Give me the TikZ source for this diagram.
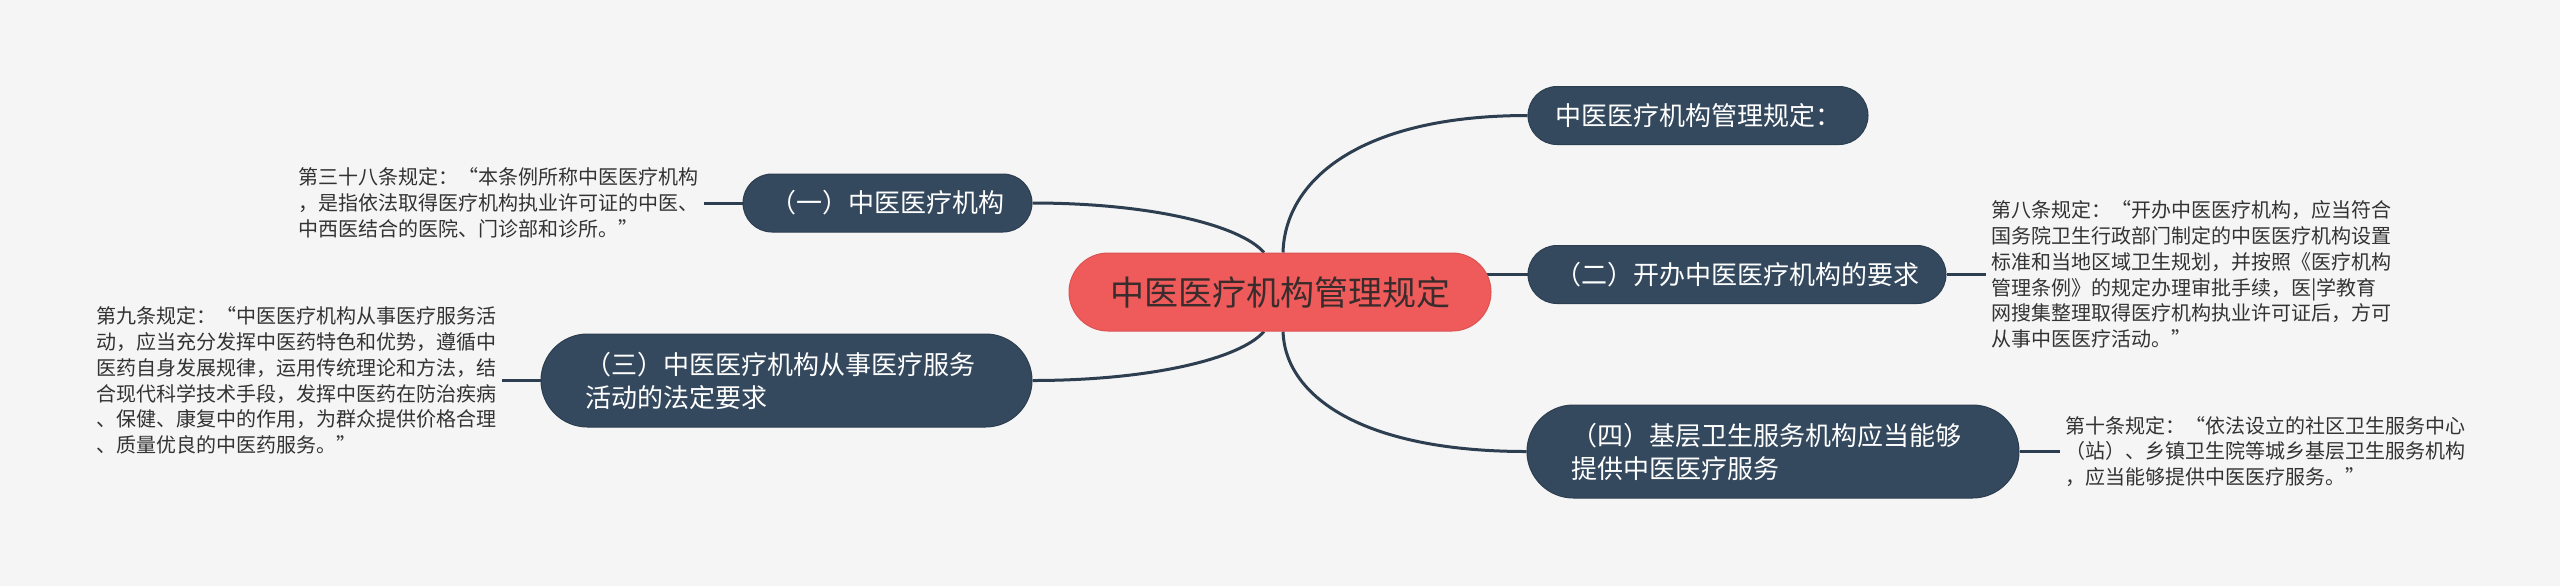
\documentclass[tikz,border=0pt]{standalone}
\usepackage{fontspec}
\setmainfont{Noto Sans CJK SC}
\usetikzlibrary{calc}
\definecolor{bgc}{HTML}{F5F5F5}
\definecolor{navy}{HTML}{34495E}
\definecolor{navyline}{HTML}{2C3E50}
\definecolor{redc}{HTML}{EF5A5A}
\definecolor{txt}{HTML}{333333}
\definecolor{ctxt}{HTML}{3A2C2C}
\pgfdeclarelayer{back}
\pgfsetlayers{back,main}
\begin{document}
\begin{tikzpicture}[x=0.5pt,y=-0.5pt,
  central/.style={fill=redc, draw=redc!92!black, line width=0.5pt, rounded corners=19.5pt,
    minimum width=211pt, minimum height=39pt, inner sep=0pt, text=ctxt,
    font=\fontsize{17pt}{20pt}\selectfont},
  topic/.style={fill=navy, draw=navyline, line width=0.5pt, text=white, inner ysep=0pt,
    inner xsep=13.5pt, minimum height=29pt, rounded corners=14.5pt,
    font=\fontsize{13pt}{16.5pt}\selectfont},
  topictwo/.style={topic, minimum height=46.5pt, rounded corners=23.25pt, inner xsep=22pt, align=left},
  detail/.style={text=txt, inner xsep=2.5pt, inner ysep=0pt, text width=200pt, align=left,
    font=\fontsize{10pt}{12.9pt}\selectfont},
  conn/.style={draw=navyline, line width=1.5pt}
]
\useasboundingbox (0,0) rectangle (2560,586);

\node[central] (C) at (1280,292) {\color{ctxt}中医医疗机构管理规定};

\node[topic, minimum width=170pt] (N0) at (1698,115.5) {中医医疗机构管理规定：};
\node[topic, minimum width=209pt] (N2) at (1737,274.5) {（二）开办中医医疗机构的要求};
\node[topictwo, text width=202pt] (N4) at (1773,451.5) {（四）基层卫生服务机构应当能够\\提供中医医疗服务};
\node[topic, minimum width=144.5pt] (N1) at (887.5,203) {（一）中医医疗机构};
\node[topictwo, text width=201.5pt] (N3) at (786.5,380.5) {（三）中医医疗机构从事医疗服务\\活动的法定要求};

\node[detail, anchor=west] (T1) at (293,203) {第三十八条规定：“本条例所称中医医疗机构\\，是指依法取得医疗机构执业许可证的中医、\\中西医结合的医院、门诊部和诊所。”};
\node[detail, anchor=west] (T3) at (91,380.5) {第九条规定：“中医医疗机构从事医疗服务活\\动，应当充分发挥中医药特色和优势，遵循中\\医药自身发展规律，运用传统理论和方法，结\\合现代科学技术手段，发挥中医药在防治疾病\\、保健、康复中的作用，为群众提供价格合理\\、质量优良的中医药服务。”};
\node[detail, anchor=west] (T2) at (1986,274.5) {第八条规定：“开办中医医疗机构，应当符合\\国务院卫生行政部门制定的中医医疗机构设置\\标准和当地区域卫生规划，并按照《医疗机构\\管理条例》的规定办理审批手续，医|学教育\\网搜集整理取得医疗机构执业许可证后，方可\\从事中医医疗活动。”};
\node[detail, anchor=west] (T4) at (2060,451.5) {第十条规定：“依法设立的社区卫生服务中心\\（站）、乡镇卫生院等城乡基层卫生服务机构\\，应当能够提供中医医疗服务。”};

\begin{pgfonlayer}{back}
\fill[bgc] (0,0) rectangle (2560,586);
\draw[conn] ($(C.north)+(-16,0)$) .. controls (1240,225) and (1150,203) .. (N1.east);
\draw[conn] ($(C.north)+(3,0)$) .. controls (1285,180) and (1360,115.5) .. (N0.west);
\draw[conn] (C.center |- N2.west) -- (N2.west);
\draw[conn] ($(C.south)+(-16,0)$) .. controls (1240,359) and (1150,380.5) .. (N3.east);
\draw[conn] ($(C.south)+(3,0)$) .. controls (1285,395) and (1360,451.5) .. (N4.west);
\draw[conn] (N1.west) -- (T1.east);
\draw[conn] (N3.west) -- (T3.east);
\draw[conn] (N2.east) -- (T2.west);
\draw[conn] (N4.east) -- (T4.west);
\end{pgfonlayer}
\end{tikzpicture}
\end{document}
